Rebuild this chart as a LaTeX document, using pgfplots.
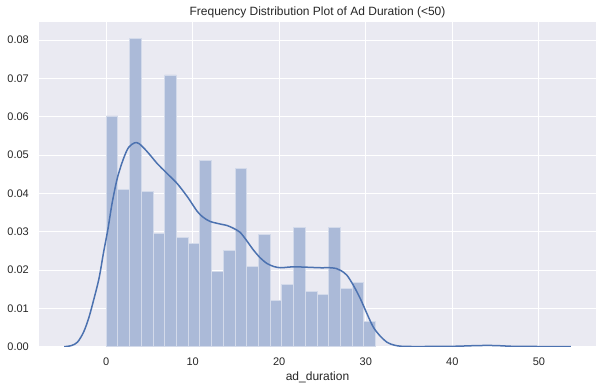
\documentclass[border=0pt]{standalone}
\usepackage{pgfplots}
\pgfplotsset{compat=1.18}
\usepackage{fontspec}
\setmainfont{Liberation Sans}
\definecolor{sbblue}{HTML}{4C72B0}
\definecolor{sbbg}{HTML}{EAEAF2}
\definecolor{barfill}{HTML}{ABBAD8}
\definecolor{baredge}{HTML}{D3DAEA}
\definecolor{txt}{HTML}{262626}
\begin{document}
\begin{tikzpicture}
\begin{axis}[
  at={(0,0)}, anchor=south west,
  scale only axis,
  width=557pt, height=325pt,
  xmin=-7.75, xmax=56.6,
  ymin=0, ymax=0.0848,
  axis background/.style={fill=sbbg},
  axis line style={draw=none},
  grid=major,
  major grid style={white, line width=1.1pt},
  major tick length=0pt,
  xtick={0,10,20,30,40,50},
  ytick={0,0.01,0.02,0.03,0.04,0.05,0.06,0.07,0.08},
  scaled y ticks=false,
  /pgf/number format/assume math mode=true,
  yticklabel style={/pgf/number format/fixed, /pgf/number format/fixed zerofill, /pgf/number format/precision=2,
    font=\fontsize{11}{13}\selectfont, text=txt, anchor=east, inner sep=0pt, xshift=-10pt},
  xticklabel style={font=\fontsize{11}{13}\selectfont, text=txt, anchor=base, inner sep=0pt, yshift=-18.3pt},
  every axis title shift=0pt,
  title={Frequency Distribution Plot of Ad Duration (<50)},
  title style={font=\fontsize{12}{14}\selectfont, text=txt, at={(axis description cs:0.5,1)}, anchor=base, inner sep=0pt, yshift=6pt},
  xlabel={ad\_duration},
  xlabel style={font=\fontsize{12}{14}\selectfont, text=txt, at={(axis description cs:0.5,0)}, anchor=base, inner sep=0pt, yshift=-33.3pt},
]
\addplot[ybar, bar width=1.354, bar shift=0pt, fill=barfill, draw=baredge, line width=0.9pt] coordinates {
(0.677,0.0602) (2.031,0.0409) (3.385,0.0805) (4.739,0.0406) (6.093,0.0295)
(7.447,0.0709) (8.801,0.0286) (10.155,0.0269) (11.509,0.0487) (12.863,0.0197)
(14.217,0.0250) (15.571,0.0464) (16.925,0.0209) (18.279,0.0292) (19.633,0.0120)
(20.987,0.0162) (22.341,0.0311) (23.695,0.0144) (25.049,0.0136) (26.403,0.0311)
(27.757,0.0152) (29.111,0.0167) (30.465,0.0065)
};
\addplot[sbblue, line width=1.5pt, smooth, tension=0.5, mark=none] coordinates {
(-4.85,0) (-4,0.0003) (-3.3,0.0012) (-2.6,0.0038) (-2,0.0075) (-1.4,0.0125)
(-0.8,0.0180) (-0.3,0.0245) (0.2,0.0305) (0.7,0.0375) (1.3,0.0440) (2.0,0.0490)
(2.6,0.0520) (3.3,0.0532) (3.8,0.0530) (4.5,0.0515) (5.2,0.0497) (5.9,0.0478)
(7.0,0.0453) (8.2,0.0426) (9.4,0.0391) (10.5,0.0354) (11.2,0.0338) (12.0,0.0327)
(13.0,0.0321) (14.0,0.0316) (14.8,0.0308) (15.5,0.0298) (16.2,0.0278) (17.0,0.0253)
(17.8,0.0232) (18.6,0.0217) (19.4,0.0209) (20.2,0.0206) (21.3,0.0208) (22.5,0.0208)
(23.6,0.0207) (24.8,0.0206) (25.9,0.0206) (26.6,0.0204) (27.1,0.0199) (27.8,0.0187)
(28.6,0.0159) (29.4,0.0124) (30.2,0.0083) (30.9,0.0050) (31.7,0.0027) (32.5,0.0011)
(33.3,0.0004) (34.2,0.0001) (36,0.00005) (40,0.0001) (43,0.0003) (45,0.0003)
(47,0.0001) (50,0.00005) (53.7,0)
};
\end{axis}
\pgfresetboundingbox
\path (-39pt,-41.3pt) rectangle (570pt,346.7pt);
\end{tikzpicture}
\end{document}
